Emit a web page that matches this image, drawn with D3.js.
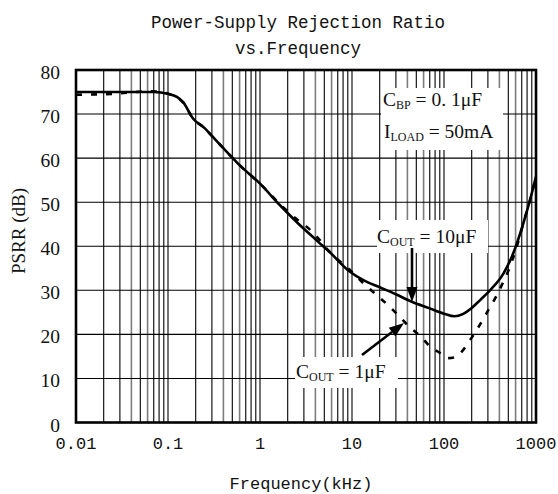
<!DOCTYPE html>
<html>
<head>
<meta charset="utf-8">
<script src="https://cdn.jsdelivr.net/npm/d3@7"></script>
<style>
  html, body { margin: 0; padding: 0; background: #fff; }
  svg { display: block; }
</style>
</head>
<body>
<svg id="chart" width="558" height="494"></svg>
<script>
// ---------- data ----------
const titleLines = ["Power-Supply Rejection Ratio", "vs.Frequency"];
const xTickValues = [0.01, 0.1, 1, 10, 100, 1000];
const xTickLabels = ["0.01", "0.1", "1", "10", "100", "1000"];
const yTickValues = [0, 10, 20, 30, 40, 50, 60, 70, 80];
const xAxisTitle = "Frequency(kHz)";
const yAxisTitle = "PSRR (dB)";

// C_OUT = 10 µF (solid)
const freq10 = [0.01, 0.02, 0.04, 0.07, 0.1, 0.125, 0.146, 0.187, 0.25, 0.307, 0.47, 0.6, 1, 1.65, 2.5, 4.3, 5.7, 9.5, 13.3, 20, 30, 44.7, 70, 100, 130, 160, 200, 250, 316, 442, 566, 728, 861, 1000];
const psrr10 = [75.0, 75.0, 75.0, 75.0, 74.6, 73.9, 72.7, 69.0, 66.8, 64.8, 60.7, 58.4, 54.2, 49.3, 45.5, 41.0, 38.7, 34.2, 32.3, 30.7, 29.1, 27.4, 25.9, 24.7, 24.1, 24.6, 26.0, 27.9, 30.0, 33.8, 38.4, 45.2, 50.5, 55.8];

// C_OUT = 1 µF (dashed)
const freq1 = [0.01, 0.02, 0.04, 0.06, 0.08, 0.1, 0.125, 0.146, 0.187, 0.25, 0.307, 0.47, 0.6, 1, 1.77, 2.45, 3.4, 4.3, 5.4, 7.0, 9.5, 13.3, 18.6, 24.7, 31.6, 42, 56, 71, 90, 110, 130, 150, 192, 257, 303, 367, 434, 513, 592, 658, 728, 861, 1000];
const psrr1 = [74.4, 74.5, 74.9, 75.2, 75.1, 74.6, 73.8, 72.6, 69.0, 66.8, 64.8, 60.7, 58.4, 54.2, 48.9, 46.3, 44.0, 41.8, 39.3, 37.0, 34.6, 31.6, 28.9, 26.6, 24.4, 21.7, 19.5, 17.2, 15.8, 14.6, 14.8, 15.7, 18.7, 22.9, 25.5, 28.5, 31.6, 35.0, 38.7, 41.8, 45.2, 50.5, 55.8];

// ---------- layout ----------
const svg = d3.select("#chart");
const L = 76, R = 536, T = 70, B = 422.5;
const x = d3.scaleLog().domain([0.01, 1000]).range([L, R]);
const y = d3.scaleLinear().domain([0, 80]).range([B, T]);

// title
svg.selectAll("text.title").data(titleLines).join("text")
  .attr("class", "title")
  .attr("x", 298).attr("y", (d, i) => 28 + i * 26)
  .attr("text-anchor", "middle")
  .attr("font-family", "Liberation Mono, monospace")
  .attr("font-size", 17.5)
  .attr("fill", "#111")
  .text(d => d);

// grid
const grid = svg.append("g");
const minor = x.ticks().filter(v => v > 0.01 && v < 1000);
const mult = d => Math.round(d / Math.pow(10, Math.floor(Math.log10(d) + 1e-9)));
grid.selectAll("line.v").data(minor).join("line")
  .attr("x1", d => x(d)).attr("x2", d => x(d))
  .attr("y1", T).attr("y2", B)
  .attr("stroke", d => (mult(d) === 4 || mult(d) === 6) ? "#7d7d7d" : "#000")
  .attr("stroke-width", d => (mult(d) === 4 || mult(d) === 6) ? 1.6 : 1.1);
grid.selectAll("line.h").data(yTickValues.filter(v => v > 0 && v < 80)).join("line")
  .attr("x1", L).attr("x2", R)
  .attr("y1", d => y(d)).attr("y2", d => y(d))
  .attr("stroke", "#000").attr("stroke-width", 1.1);

// annotation boxes (mask grid)
const boxes = [
  { x0: 381, x1: 503, y0: 88, y1: 150 },
  { x0: 377, x1: 488, y0: 220, y1: 253 },
  { x0: 295, x1: 398, y0: 357, y1: 388 }
];
svg.selectAll("rect.box").data(boxes).join("rect")
  .attr("x", d => d.x0).attr("y", d => d.y0)
  .attr("width", d => d.x1 - d.x0).attr("height", d => d.y1 - d.y0)
  .attr("fill", "#fff");

// curves
const line = d3.line().x(d => x(d[0])).y(d => y(d[1])).curve(d3.curveMonotoneX);
svg.append("path")
  .datum(d3.zip(freq1, psrr1))
  .attr("d", line)
  .attr("fill", "none").attr("stroke", "#000")
  .attr("stroke-width", 2.6).attr("stroke-dasharray", "6,9");
svg.append("path")
  .datum(d3.zip(freq10, psrr10))
  .attr("d", line)
  .attr("fill", "none").attr("stroke", "#000")
  .attr("stroke-width", 2.6);

// frame
svg.append("rect")
  .attr("x", L).attr("y", T).attr("width", R - L).attr("height", B - T)
  .attr("fill", "none").attr("stroke", "#000").attr("stroke-width", 2.6);

// tick labels
svg.selectAll("text.xt").data(xTickValues).join("text")
  .attr("class", "xt")
  .attr("x", d => Math.min(x(d), 536))
  .attr("y", 449)
  .attr("text-anchor", "middle")
  .attr("font-family", "Liberation Mono, monospace")
  .attr("font-size", 17)
  .attr("fill", "#111")
  .text((d, i) => xTickLabels[i]);
svg.selectAll("text.yt").data(yTickValues).join("text")
  .attr("class", "yt")
  .attr("x", 60)
  .attr("y", d => y(d) + 9)
  .attr("text-anchor", "end")
  .attr("font-family", "Liberation Serif, serif")
  .attr("font-size", 19.5)
  .attr("fill", "#111")
  .text(d => d);

// axis titles
svg.append("text")
  .attr("x", 301).attr("y", 489)
  .attr("text-anchor", "middle")
  .attr("font-family", "Liberation Mono, monospace")
  .attr("font-size", 17)
  .attr("fill", "#111")
  .text(xAxisTitle);
svg.append("text")
  .attr("transform", "translate(25,231) rotate(-90)")
  .attr("text-anchor", "middle")
  .attr("font-family", "Liberation Serif, serif")
  .attr("font-size", 19)
  .attr("fill", "#111")
  .text(yAxisTitle);

// annotation texts
function label(xp, yp, main, sub, rest) {
  const t = svg.append("text")
    .attr("x", xp).attr("y", yp)
    .attr("font-family", "Liberation Serif, serif")
    .attr("font-size", 19.5)
    .attr("fill", "#111");
  t.append("tspan").text(main);
  t.append("tspan").attr("font-size", 12).attr("dy", 3).text(sub);
  t.append("tspan").attr("dy", -3).text(rest);
}
label(383, 106, "C", "BP", " = 0. 1\u03BCF");
label(384, 138, "I", "LOAD", " = 50mA");
label(377, 243, "C", "OUT", " = 10\u03BCF");
label(296, 378, "C", "OUT", " = 1\u03BCF");

// arrows
function arrow(x0, y0, x1, y1) {
  const ang = Math.atan2(y1 - y0, x1 - x0);
  const hl = 15, hw = 5.5;
  const bx = x1 - hl * Math.cos(ang), by = y1 - hl * Math.sin(ang);
  svg.append("line")
    .attr("x1", x0).attr("y1", y0).attr("x2", bx).attr("y2", by)
    .attr("stroke", "#000").attr("stroke-width", 2.6);
  const px = -Math.sin(ang) * hw, py = Math.cos(ang) * hw;
  svg.append("path")
    .attr("d", `M${x1},${y1}L${bx + px},${by + py}L${bx - px},${by - py}Z`)
    .attr("fill", "#000");
}
arrow(412, 248, 412, 302);
arrow(362, 355, 404, 323);
</script>
</body>
</html>
